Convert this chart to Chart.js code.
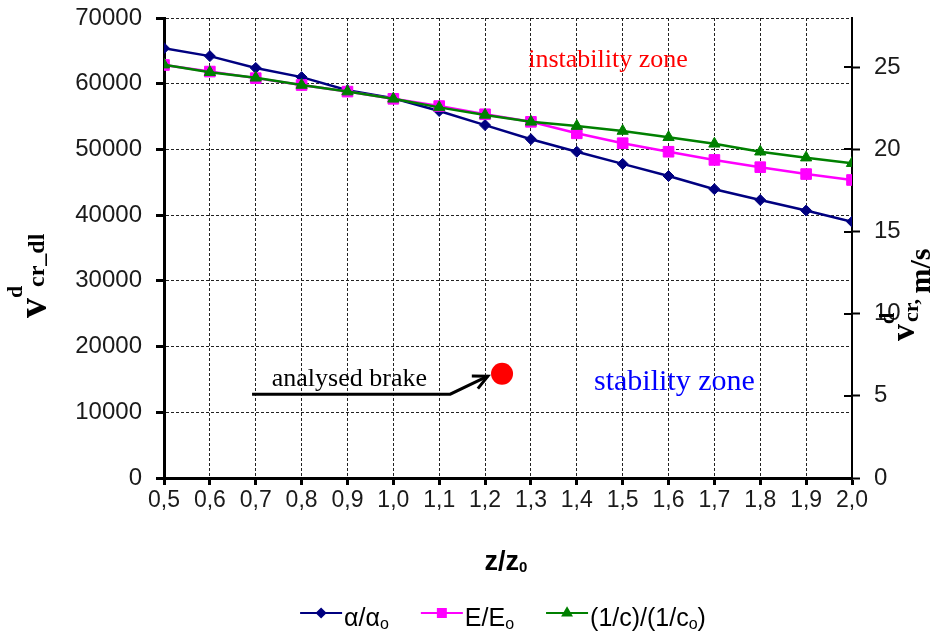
<!DOCTYPE html>
<html>
<head>
<meta charset="utf-8">
<script src="https://cdn.jsdelivr.net/npm/chart.js@4/dist/chart.umd.min.js"></script>
<style>
  html, body { margin: 0; padding: 0; background: #fff; }
  #wrap { width: 937px; height: 632px; position: relative; }
</style>
</head>
<body>
<div id="wrap"><canvas id="chart" width="937" height="632"></canvas></div>
<script>
// z/z0 ratios on the x axis
const zRatio = [0.5, 0.6, 0.7, 0.8, 0.9, 1.0, 1.1, 1.2, 1.3, 1.4, 1.5, 1.6, 1.7, 1.8, 1.9, 2.0];

// v^d_cr_dl for each varied parameter
const alphaSeries = [65400, 64200, 62400, 61000, 59000, 57800, 55850, 53700, 51550, 49650, 47800, 45950, 43950, 42300, 40700, 39000];
const eSeries     = [62850, 61850, 60850, 59800, 58800, 57700, 56600, 55350, 54200, 52450, 50950, 49650, 48400, 47300, 46250, 45350];
const cSeries     = [62900, 61750, 60900, 59800, 58800, 57700, 56400, 55250, 54200, 53550, 52800, 51850, 50850, 49650, 48750, 47900];

// the analysed brake (z/z0, v^d_cr_dl)
const brakePoint = [{ x: 1.237, y: 15850 }];

const leftTicks = [0, 10000, 20000, 30000, 40000, 50000, 60000, 70000];
const rightTicks = [0, 5, 10, 15, 20, 25];
const rightMax = 28;

const legendNames = [['α/α', 'o'], ['E/E', 'o'], ['(1/c)/(1/c', 'o', ')']];

const toXY = arr => arr.map((v, i) => ({ x: zRatio[i], y: v }));

const tickFont = { family: 'Liberation Sans, Arial, sans-serif', size: 24 };

// keep the plot box where the reference has it
const fitTo = (prop, size) => s => {
    s[prop] = size;
    s.paddingTop = 0; s.paddingBottom = 0; s.paddingLeft = 0; s.paddingRight = 0;
};

// text, arrow, axis titles and legend
const extras = {
    id: 'extras',
    afterDraw(chart) {
        const ctx = chart.ctx;
        const xs = chart.scales.x, ys = chart.scales.y, yr = chart.scales.y2;
        const px = v => xs.getPixelForValue(v);
        const py = v => ys.getPixelForValue(v);
        ctx.save();

        // inner halves of right axis ticks
        ctx.strokeStyle = '#000';
        ctx.lineWidth = 2;
        rightTicks.forEach(t => {
            const y = Math.round(yr.getPixelForValue(t));
            ctx.beginPath();
            ctx.moveTo(chart.chartArea.right - 8, y);
            ctx.lineTo(chart.chartArea.right, y);
            ctx.stroke();
        });

        // zone labels
        ctx.textBaseline = 'alphabetic';
        ctx.textAlign = 'left';
        ctx.font = '26px "Liberation Serif", "Times New Roman", serif';
        ctx.fillStyle = '#ff0000';
        ctx.fillText('instability zone', px(1.294), py(62600));
        ctx.font = '30px "Liberation Serif", "Times New Roman", serif';
        ctx.fillStyle = '#0000ff';
        ctx.fillText('stability zone', px(1.4375), py(13350));

        // analysed brake pointer
        ctx.font = '26px "Liberation Serif", "Times New Roman", serif';
        ctx.fillStyle = '#000';
        ctx.fillText('analysed brake', px(0.735), py(14050));
        const ax = px(1.206), ay = py(15500);
        ctx.strokeStyle = '#000';
        ctx.lineWidth = 3;
        ctx.beginPath();
        ctx.moveTo(px(0.692), py(12750));
        ctx.lineTo(px(1.124), py(12750));
        ctx.lineTo(ax, ay);
        ctx.stroke();
        const ang = Math.atan2(ay - py(12750), ax - px(1.124));
        ctx.beginPath();
        ctx.moveTo(ax - 16 * Math.cos(ang - 0.45), ay - 16 * Math.sin(ang - 0.45));
        ctx.lineTo(ax, ay);
        ctx.lineTo(ax - 16 * Math.cos(ang + 0.45), ay - 16 * Math.sin(ang + 0.45));
        ctx.stroke();

        // left axis title
        const serifB = s => 'bold ' + s + 'px "Liberation Serif", "Times New Roman", serif';
        ctx.fillStyle = '#000';
        ctx.save();
        ctx.translate(46, 318);
        ctx.rotate(-Math.PI / 2);
        ctx.font = serifB(40);
        ctx.fillText('v', 0, 0);
        const vw = ctx.measureText('v').width;
        ctx.font = serifB(22);
        ctx.fillText('d', vw, -24);
        ctx.font = serifB(24);
        ctx.fillText('cr_dl', vw + 11, -2);
        ctx.restore();

        // right axis title
        ctx.save();
        ctx.translate(914, 341);
        ctx.rotate(-Math.PI / 2);
        ctx.font = serifB(34);
        ctx.fillText('v', 0, 0);
        const vw2 = ctx.measureText('v').width;
        ctx.font = serifB(20);
        ctx.fillText('d', vw2, -20);
        ctx.font = serifB(22);
        ctx.fillText('cr,', vw2 + 2, 4);
        const cw = ctx.measureText('cr, ').width;
        ctx.font = serifB(30);
        ctx.fillText('m/s', vw2 + 2 + cw, 16);
        ctx.restore();

        // x axis title
        ctx.font = 'bold 27px "Liberation Sans", Arial, sans-serif';
        const zw = ctx.measureText('z/z').width;
        ctx.font = 'bold 15px "Liberation Sans", Arial, sans-serif';
        const ow = ctx.measureText('0').width;
        let tx = 506 - (zw + ow) / 2;
        ctx.font = 'bold 27px "Liberation Sans", Arial, sans-serif';
        ctx.fillText('z/z', tx, 570);
        ctx.font = 'bold 15px "Liberation Sans", Arial, sans-serif';
        ctx.fillText('0', tx + zw, 572);

        // legend
        const big = '25px "Liberation Sans", Arial, sans-serif';
        const small = '16px "Liberation Sans", Arial, sans-serif';
        const lineLen = 42, gap = 2, itemGap = 32;
        const widths = legendNames.map(parts => {
            let w = 0;
            parts.forEach((p, k) => { ctx.font = k === 1 ? small : big; w += ctx.measureText(p).width; });
            return lineLen + gap + w;
        });
        const total = widths.reduce((a, b) => a + b, 0) + itemGap * (widths.length - 1);
        let lx = 503 - total / 2;
        const ly = 613;
        const sets = chart.data.datasets.slice(0, 3);
        sets.forEach((ds, i) => {
            ctx.strokeStyle = ds.borderColor;
            ctx.lineWidth = 2;
            ctx.beginPath();
            ctx.moveTo(lx, ly);
            ctx.lineTo(lx + lineLen, ly);
            ctx.stroke();
            ctx.fillStyle = ds.borderColor;
            Chart.helpers.drawPoint(ctx, { pointStyle: ds.pointStyle, radius: ds.pointRadius * 0.75, borderWidth: 1, rotation: 0 }, lx + lineLen / 2, ly);
            ctx.fill();
            let x = lx + lineLen + gap;
            ctx.fillStyle = '#000';
            legendNames[i].forEach((p, k) => {
                ctx.font = k === 1 ? small : big;
                ctx.fillText(p, x, k === 1 ? ly + 16 : ly + 13);
                x += ctx.measureText(p).width;
            });
            lx += widths[i] + itemGap;
        });

        ctx.restore();
    }
};

new Chart(document.getElementById('chart'), {
    type: 'line',
    data: {
        datasets: [
            {
                label: 'α/αo', data: toXY(alphaSeries), order: 3,
                borderColor: '#000080', backgroundColor: '#000080',
                borderWidth: 2.5, pointStyle: 'rectRot', pointRadius: 5.5, pointBorderWidth: 1
            },
            {
                label: 'E/Eo', data: toXY(eSeries), order: 2,
                borderColor: '#ff00ff', backgroundColor: '#ff00ff',
                borderWidth: 2.5, pointStyle: 'rect', pointRadius: 7.5, pointBorderWidth: 1
            },
            {
                label: '(1/c)/(1/co)', data: toXY(cSeries), order: 1,
                borderColor: '#008000', backgroundColor: '#008000',
                borderWidth: 2.5, pointStyle: 'triangle', pointRadius: 6.5, pointBorderWidth: 1
            },
            {
                label: 'analysed brake', data: brakePoint, order: 0, showLine: false,
                borderColor: '#ff0000', backgroundColor: '#ff0000',
                pointStyle: 'circle', pointRadius: 11, pointBorderWidth: 0
            }
        ]
    },
    options: {
        responsive: false,
        animation: false,
        events: [],
        layout: { padding: { top: 18, left: 0, right: 0, bottom: 0 } },
        plugins: { legend: { display: false }, tooltip: { enabled: false } },
        scales: {
            x: {
                type: 'linear', min: 0.5, max: 2.0,
                afterBuildTicks: s => { s.ticks = zRatio.map(v => ({ value: v })); },
                afterFit: fitTo('height', 154),
                ticks: {
                    color: '#1a1a1a', font: { family: tickFont.family, size: 23 }, padding: 2,
                    maxRotation: 0, autoSkip: false,
                    callback: v => v.toFixed(1).replace('.', ',')
                },
                grid: { color: '#222', lineWidth: 1, tickColor: '#000', tickWidth: 3, tickLength: 7 },
                border: { color: '#000', width: 3, dash: [3, 2] }
            },
            y: {
                position: 'left', min: 0, max: 70000,
                afterBuildTicks: s => { s.ticks = leftTicks.map(v => ({ value: v })); },
                afterFit: fitTo('width', 164),
                ticks: { color: '#1a1a1a', font: tickFont, padding: 14, callback: v => String(v) },
                grid: { color: '#222', lineWidth: 1, tickColor: '#000', tickWidth: 3, tickLength: 8 },
                border: { color: '#000', width: 3, dash: [3, 2] }
            },
            y2: {
                position: 'right', min: 0, max: rightMax,
                afterBuildTicks: s => { s.ticks = rightTicks.map(v => ({ value: v })); },
                afterFit: fitTo('width', 85),
                ticks: { color: '#1a1a1a', font: tickFont, padding: 14, callback: v => String(v) },
                grid: { drawOnChartArea: false, tickColor: '#000', tickWidth: 2, tickLength: 8 },
                border: { color: '#000', width: 2 }
            }
        }
    },
    plugins: [extras]
});
</script>
</body>
</html>
